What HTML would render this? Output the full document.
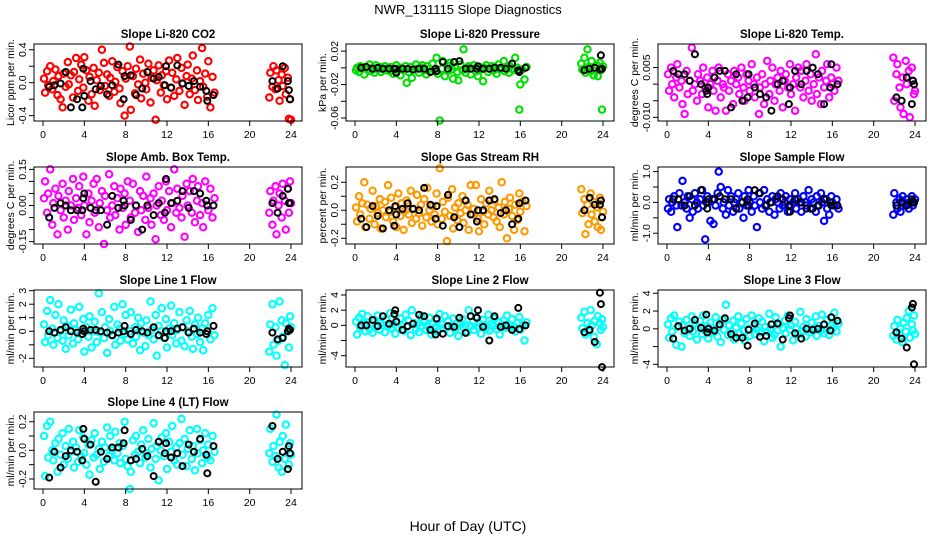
<!DOCTYPE html>
<html><head><meta charset="utf-8"><style>
html,body{margin:0;padding:0;background:#fff;}
svg{display:block;font-family:"Liberation Sans",Arial,sans-serif;}
</style></head><body>
<svg id="chart" width="936" height="540" viewBox="0 0 936 540" xmlns="http://www.w3.org/2000/svg">
<rect width="936" height="540" fill="#fff"/>
<text x="468" y="14" text-anchor="middle" font-size="13">NWR_131115  Slope Diagnostics</text>
<text x="468" y="531" text-anchor="middle" font-size="14">Hour of Day (UTC)</text>
<g id="panels"></g>
</svg>
<script>
const hours = [0.1,0.2,0.4,0.5,0.7,0.9,1.0,1.2,1.4,1.5,1.7,1.9,2.0,2.2,2.4,2.5,2.7,2.9,3.0,3.2,3.4,3.5,3.7,3.9,4.0,4.2,4.4,4.5,4.7,4.9,5.0,5.2,5.4,5.5,5.7,5.9,6.0,6.2,6.4,6.5,6.7,6.9,7.0,7.2,7.4,7.5,7.7,7.9,8.0,8.2,8.4,8.5,8.7,8.9,9.0,9.2,9.4,9.5,9.7,9.9,10.0,10.2,10.4,10.5,10.7,10.9,11.0,11.2,11.4,11.5,11.7,11.9,12.0,12.2,12.4,12.5,12.7,12.9,13.0,13.2,13.4,13.5,13.7,13.9,14.0,14.2,14.4,14.5,14.7,14.9,15.0,15.2,15.4,15.5,15.7,15.9,16.0,16.2,16.4,16.6,
21.9,22.0,22.2,22.3,22.5,22.6,22.8,22.9,23.1,23.2,23.4,23.5,23.7,23.8,23.9,24.0];
const refHours = [0.6,1.1,1.7,2.2,2.7,3.3,3.8,3.9,4.0,4.6,5.1,5.6,6.2,6.7,7.3,7.8,7.9,8.5,9.0,9.6,10.1,10.7,11.2,11.8,11.9,12.4,13.0,13.5,14.1,14.6,15.2,15.8,15.9,16.5,22.2,22.7,23.2,23.7,23.8,23.9];
const xTicks = [0,4,8,12,16,20,24];

const co2Vals = [5,-12,14,-3,20,-8,2,16,-15,8,-20,-30,11,-5,25,-2,9,-18,13,30,-10,4,22,-6,31,15,-22,7,-14,18,-28,3,12,-9,40,24,-4,10,-16,6,26,-11,1,19,-7,-25,14,-40,5,20,44,-33,8,-13,17,-2,28,-19,11,0,-8,23,-24,6,15,-45,3,21,-12,9,-3,14,-20,27,-6,12,-16,4,30,-10,18,-1,-27,8,22,-14,5,33,-9,15,-21,2,42,-5,11,-17,26,-30,7,-12,-18,12,-5,20,-8,15,3,-22,10,-4,18,-14,6,-44,-20,-45];
const co2Ref = [-5,-3,-1,13,-30,-20,-30,17,-16,2,-8,-4,-14,-3,22,-20,8,9,-15,-7,13,5,7,-3,20,-6,21,-1,-4,2,-5,-10,-22,-15,2,-7,20,2,-9,-20];
const presVals = [-3,0,-5,2,-1,-8,1,-2,4,-4,0,-6,3,-2,1,-5,-1,2,-3,0,-4,1,-7,-2,3,-1,-9,0,-3,2,-18,-5,1,-12,-2,4,-1,-6,0,3,-3,-8,2,-1,-4,5,-2,12,-7,-63,-1,8,-10,3,-4,6,-2,-13,1,-5,-15,4,-3,22,-6,0,2,-8,-1,3,-4,-10,1,-2,-16,0,3,-5,-1,2,-3,1,-7,4,-2,0,8,-4,1,-6,2,-1,-3,12,0,-50,-20,-2,-14,1,5,-2,12,-6,22,1,-4,8,-9,0,3,-10,6,-3,-50,2];
const presRef = [0,1,-1,0,-1,-1,-1,-1,-6,-1,-1,-2,-1,-1,-5,-1,-4,7,-1,7,8,-1,-1,-1,2,-1,-1,0,0,-1,5,-3,-5,0,-3,-1,0,-2,15,-1];
const tempVals = [3,-2,5,0,-4,2,6,-1,1,-6,-9,4,-3,1,11,-2,0,-5,3,1,-3,5,-1,2,-7,0,4,-2,-8,1,5,-4,0,-1,-8,3,-2,1,-6,4,0,2,-3,5,-1,-5,3,1,-2,6,0,-4,2,-9,-1,3,-6,0,7,-3,1,5,-5,0,2,-2,4,-7,1,3,-1,6,-3,0,-8,2,5,-1,4,-4,1,6,-2,3,-5,0,9,-3,2,-6,4,-1,1,6,-4,2,0,-2,5,1,8,-5,3,6,-1,-7,2,-9,7,0,4,-10,5,1,-3,-2];
const tempRef = [4,3,3,1,9,0,-2,-3,-1,2,4,4,-7,3,-5,-4,3,-1,-3,-4,-8,0,1,-6,-1,4,0,4,5,3,-6,-1,6,0,-4,-5,2,-6,1,0];
const ambVals = [3,10,-3,5,15,-8,1,7,-12,4,-2,9,-5,2,-10,6,0,11,-6,3,-1,8,-4,12,0,-12,5,-7,2,9,-3,11,-9,1,6,-16,4,-2,13,-5,0,8,-4,3,-10,7,-1,5,-8,10,2,-5,9,-3,0,-11,6,-2,4,-6,12,-1,3,-8,5,-14,0,8,-4,2,-6,10,-2,6,-9,1,15,-3,7,-1,-5,4,-13,9,0,6,-3,11,-7,2,8,-4,1,-9,10,0,-2,7,-5,3,-3,6,-8,2,8,-12,0,5,-5,9,2,-10,7,-3,10,1];
const ambRef = [-5,-1,1,0,-2,-2,-2,3,5,-1,-2,-2,-8,4,-1,2,0,-6,0,-10,0,-4,1,-3,11,1,2,6,-1,6,5,2,0,0,1,-3,4,7,1,1];
const rhVals = [2,-8,10,-3,5,20,-12,4,-6,1,14,-10,3,-2,8,-13,0,6,-5,18,-1,9,-8,2,-12,12,-4,5,-14,0,7,-3,14,-9,1,-6,11,-2,4,-11,8,-5,16,0,-8,3,-3,12,-10,30,-6,6,-1,-22,9,-4,15,-13,2,-7,5,-2,10,-9,0,4,-14,18,-3,1,18,-6,-15,8,-1,-10,5,-3,14,0,-5,7,-8,2,-12,20,-3,6,-20,1,9,-4,-14,4,-7,12,-1,6,-15,3,15,-2,8,-17,4,-10,12,-3,6,-8,2,-12,9,-14,-5,-1];
const rhRef = [-6,-12,3,-4,-13,0,-11,3,-3,1,5,1,0,16,4,-6,3,-11,11,-5,-12,7,-3,-8,0,0,7,8,-2,0,-10,-6,5,7,0,9,4,4,7,-5];
const sampVals = [-2,1,-3,0,2,-1,-8,3,-1,7,0,-2,2,-5,1,-3,3,0,-2,1,4,-1,-12,2,0,-6,1,-7,-1,3,10,5,-2,0,-4,4,-1,2,-3,0,1,3,-2,0,-5,2,-1,4,0,-3,2,-1,-8,3,0,-2,4,-1,1,-3,0,2,-4,1,0,-2,3,-1,0,2,-3,1,-1,0,3,-2,1,0,-3,2,0,-1,4,-2,1,0,-3,2,-1,3,0,-6,1,-2,-4,2,0,-1,1,-2,-4,3,0,-2,1,-3,2,0,-1,1,-2,0,2,-1,0,1];
const sampRef = [1,1,-1,2,-1,4,0,-2,1,1,2,1,1,-2,0,1,-1,4,3,-1,0,2,1,-1,-3,1,0,-2,-2,-1,1,0,-1,-1,-1,0,-1,1,0,0];
const l1Vals = [5,-8,15,-3,23,2,-10,12,-5,20,0,-7,8,-13,4,-3,16,-9,6,1,-6,18,-2,9,-15,3,-4,11,-12,0,7,-8,28,-1,14,-5,3,-16,9,0,-3,18,-10,5,2,-7,20,-2,12,-6,0,14,-9,3,-4,10,-14,6,-1,-11,8,-3,22,1,-6,12,-18,4,0,17,-5,9,-12,2,19,-3,6,-9,1,14,-7,3,-11,8,0,15,-4,-13,5,-2,10,-8,2,-14,6,0,12,-6,17,-3,-15,5,20,-10,3,-18,-7,22,8,-4,-25,6,0,-12,11,3];
const l1Ref = [0,-1,1,3,0,-1,-2,2,0,1,1,0,-1,-3,-1,0,4,-2,1,0,-1,3,-3,-5,0,0,2,3,-1,2,-1,-2,0,4,-1,-6,-5,0,2,1];
const l2Vals = [5,-12,10,-3,15,2,-8,12,-5,1,-10,7,-2,13,-6,3,0,-9,8,-1,16,-4,2,-11,5,-3,9,0,-7,14,-2,6,-13,20,3,-5,1,-9,11,-1,4,-6,0,10,-12,2,-3,7,-8,15,1,-4,12,-2,6,-10,0,9,-5,3,-14,2,8,-3,0,-9,20,-1,5,-6,11,-2,3,-11,7,0,-4,14,-7,2,-1,9,-5,4,-12,1,6,-3,13,0,-4,8,-2,-8,3,11,-6,0,-20,4,10,-4,18,-12,3,-8,20,0,-15,6,-25,12,3,-6,8,-2];
const l2Ref = [0,0,7,-1,12,2,15,20,5,-6,-1,2,14,12,-6,-12,9,-11,-1,-2,10,-10,12,10,20,-2,-20,12,-2,0,-6,23,-5,0,-9,-6,-22,43,28,-55];
const l3Vals = [5,-10,12,-3,15,-18,2,8,-20,4,-5,10,0,-8,14,-3,6,-12,1,9,-6,15,-2,3,-11,7,0,-4,13,-9,2,-15,10,-1,27,-7,4,-3,9,-12,1,14,-5,6,-2,-13,11,0,-8,15,3,-6,-1,12,-4,8,-14,2,-3,17,0,-10,-7,13,-2,5,-20,1,9,-5,15,-1,4,-13,8,0,-6,19,-3,2,-9,11,0,-4,7,-2,14,-8,3,-1,16,-5,-2,10,-7,4,0,18,-3,6,-8,3,-12,10,-5,0,-15,7,-3,12,20,-10,5,-2,15,-6];
const l3Ref = [-11,3,-2,0,10,1,16,-4,0,-2,5,12,-6,-10,-10,-19,-1,6,-9,-8,5,6,-12,12,15,-5,-11,0,-1,0,5,-2,13,9,-4,-11,-21,24,28,-40];
const l4Vals = [10,-18,17,-5,20,0,-7,5,-15,8,-3,12,-10,3,-6,15,-1,6,-12,2,-8,14,-4,9,-2,-10,4,-17,7,-5,12,-3,1,-13,6,-8,2,16,-4,10,0,-7,13,-2,5,-9,3,20,-6,-11,-27,-15,7,-3,10,-1,-9,4,14,-5,-2,8,-12,1,19,-6,3,-21,0,9,-4,12,-13,6,-1,17,-7,2,-10,5,22,-3,8,-11,1,14,-6,3,-14,15,-2,7,-9,0,12,-5,4,-7,10,-1,-2,15,-8,3,-4,25,-12,6,-15,10,-6,18,1,-10,5,-3];
const l4Ref = [-19,-1,-12,-4,0,-1,-7,15,8,4,-22,-1,-6,2,2,5,14,-7,-6,1,-4,-18,6,-2,5,-5,-2,-11,4,-1,8,-3,-16,3,17,-6,-1,-13,3,-2];

const panels = [
 {name:'co2',title:'Slope Li-820 CO2',ylab:'Licor ppm per min.',col:0,row:0,color:'#ff0000',unit:0.01,vals:co2Vals,ref:co2Ref,lim:[-0.465,0.47],ticks:[-0.4,-0.2,0,0.2,0.4],labels:[[-0.4,'-0.4'],[0,'0.0'],[0.4,'0.4']]},
 {name:'pressure',title:'Slope Li-820 Pressure',ylab:'kPa per min.',col:1,row:0,color:'#00e000',unit:0.001,vals:presVals,ref:presRef,lim:[-0.0636,0.0285],ticks:[-0.06,-0.04,-0.02,0,0.02],labels:[[-0.06,'-0.06'],[-0.02,'-0.02'],[0.02,'0.02']]},
 {name:'temp',title:'Slope Li-820 Temp.',ylab:'degrees C per min.',col:2,row:0,color:'#ff00ff',unit:0.001,vals:tempVals,ref:tempRef,lim:[-0.0111,0.0121],ticks:[-0.01,-0.005,0,0.005],labels:[[-0.01,'-0.010'],[0.005,'0.005']]},
 {name:'amb-box-temp',title:'Slope Amb. Box Temp.',ylab:'degrees C per min.',col:0,row:1,color:'#ff00ff',unit:0.01,vals:ambVals,ref:ambRef,lim:[-0.16,0.16],ticks:[-0.15,-0.1,-0.05,0,0.05,0.1,0.15],labels:[[-0.15,'-0.15'],[0,'0.00'],[0.15,'0.15']]},
 {name:'gas-rh',title:'Slope Gas Stream RH',ylab:'percent per min.',col:1,row:1,color:'#ff9900',unit:0.01,vals:rhVals,ref:rhRef,lim:[-0.241,0.309],ticks:[-0.2,-0.1,0,0.1,0.2],labels:[[-0.2,'-0.2'],[0,'0.0'],[0.2,'0.2']]},
 {name:'sample-flow',title:'Slope Sample Flow',ylab:'ml/min per min.',col:2,row:1,color:'#0000ff',unit:0.1,vals:sampVals,ref:sampRef,lim:[-1.35,1.15],ticks:[-1,-0.5,0,0.5,1],labels:[[-1,'-1.0'],[0,'0.0'],[1,'1.0']]},
 {name:'line1-flow',title:'Slope Line 1 Flow',ylab:'ml/min per min.',col:0,row:2,color:'#00ffff',unit:0.1,vals:l1Vals,ref:l1Ref,lim:[-2.64,3.05],ticks:[-2,-1,0,1,2,3],labels:[[-2,'-2'],[0,'0'],[1,'1'],[2,'2'],[3,'3']]},
 {name:'line2-flow',title:'Slope Line 2 Flow',ylab:'ml/min per min.',col:1,row:2,color:'#00ffff',unit:0.1,vals:l2Vals,ref:l2Ref,lim:[-5.49,4.66],ticks:[-4,-2,0,2,4],labels:[[-4,'-4'],[0,'0'],[2,'2'],[4,'4']]},
 {name:'line3-flow',title:'Slope Line 3 Flow',ylab:'ml/min per min.',col:2,row:2,color:'#00ffff',unit:0.1,vals:l3Vals,ref:l3Ref,lim:[-4.3,4.37],ticks:[-4,-2,0,2,4],labels:[[-4,'-4'],[0,'0'],[2,'2'],[4,'4']]},
 {name:'line4-flow',title:'Slope Line 4 (LT) Flow',ylab:'ml/min per min.',col:0,row:3,color:'#00ffff',unit:0.01,vals:l4Vals,ref:l4Ref,lim:[-0.27,0.268],ticks:[-0.2,-0.1,0,0.1,0.2],labels:[[-0.2,'-0.2'],[0,'0.0'],[0.2,'0.2']]}
];
const rowTops=[44,167,290,412];
const NS='http://www.w3.org/2000/svg';
function mk(tag,attrs,parent){const e=document.createElementNS(NS,tag);for(const k in attrs)e.setAttribute(k,attrs[k]);parent.appendChild(e);return e;}
const root=document.getElementById('panels');
panels.forEach(p=>{
  const ox=p.col*312, top=rowTops[p.row], H=77, left=ox+34, right=ox+302, bottom=top+H;
  const xs=h=>ox+43+h*(248/24);
  const ys=v=>bottom-(v-p.lim[0])/(p.lim[1]-p.lim[0])*H;
  const g=mk('g',{},root);
  
  
  const t=mk('text',{x:(left+right)/2,y:top-6,'text-anchor':'middle','font-size':'11.5','font-weight':'bold'},g);
  t.textContent=p.title;
  
  
  const yl=mk('text',{x:0,y:0,'text-anchor':'middle','font-size':'10.5',transform:`translate(${ox+14},${top+H/2}) rotate(-90)`},g);
  yl.textContent=p.ylab;
  
  
  const pts=mk('g',{fill:'none',stroke:p.color,'stroke-width':'2.1'},g);
  
  
  p.vals.forEach((v,i)=>{
    const c=mk('circle',{cx:xs(hours[i]).toFixed(1),cy:ys(v*p.unit).toFixed(1),r:'3.2'},pts);
    
    
  });
  const rp=mk('g',{fill:'none',stroke:'#000','stroke-width':'2'},g);
  
  
  p.ref.forEach((v,i)=>{
    const c=mk('circle',{cx:xs(refHours[i]).toFixed(1),cy:ys(v*p.unit).toFixed(1),r:'3'},rp);
    
    
  });
  const box=mk('rect',{x:left,y:top,width:right-left,height:H,fill:'none',stroke:'#000','stroke-width':'1'},g);
  
  
  const xa=mk('g',{stroke:'#000','stroke-width':'1'},g);
  
  
  mk('line',{x1:xs(0),x2:xs(24),y1:bottom,y2:bottom},xa);
  xTicks.forEach(h=>{
    mk('line',{x1:xs(h),x2:xs(h),y1:bottom,y2:bottom+5},xa);
    const tl=mk('text',{x:xs(h),y:bottom+17,'text-anchor':'middle','font-size':'10.5',stroke:'none',fill:'#000'},xa);
    tl.textContent=String(h);
    
    
  });
  const ya=mk('g',{stroke:'#000','stroke-width':'1'},g);
  
  
  mk('line',{x1:left,x2:left,y1:ys(p.ticks[0]),y2:ys(p.ticks[p.ticks.length-1])},ya);
  p.ticks.forEach(v=>{mk('line',{x1:left-5,x2:left,y1:ys(v),y2:ys(v)},ya);});
  p.labels.forEach(([v,s])=>{
    const tl=mk('text',{x:0,y:0,'text-anchor':'middle','font-size':'10.5',stroke:'none',fill:'#000',transform:`translate(${left-8},${ys(v)}) rotate(-90)`},ya);
    tl.textContent=s;
    
    
  });
});
</script>
</body></html>
